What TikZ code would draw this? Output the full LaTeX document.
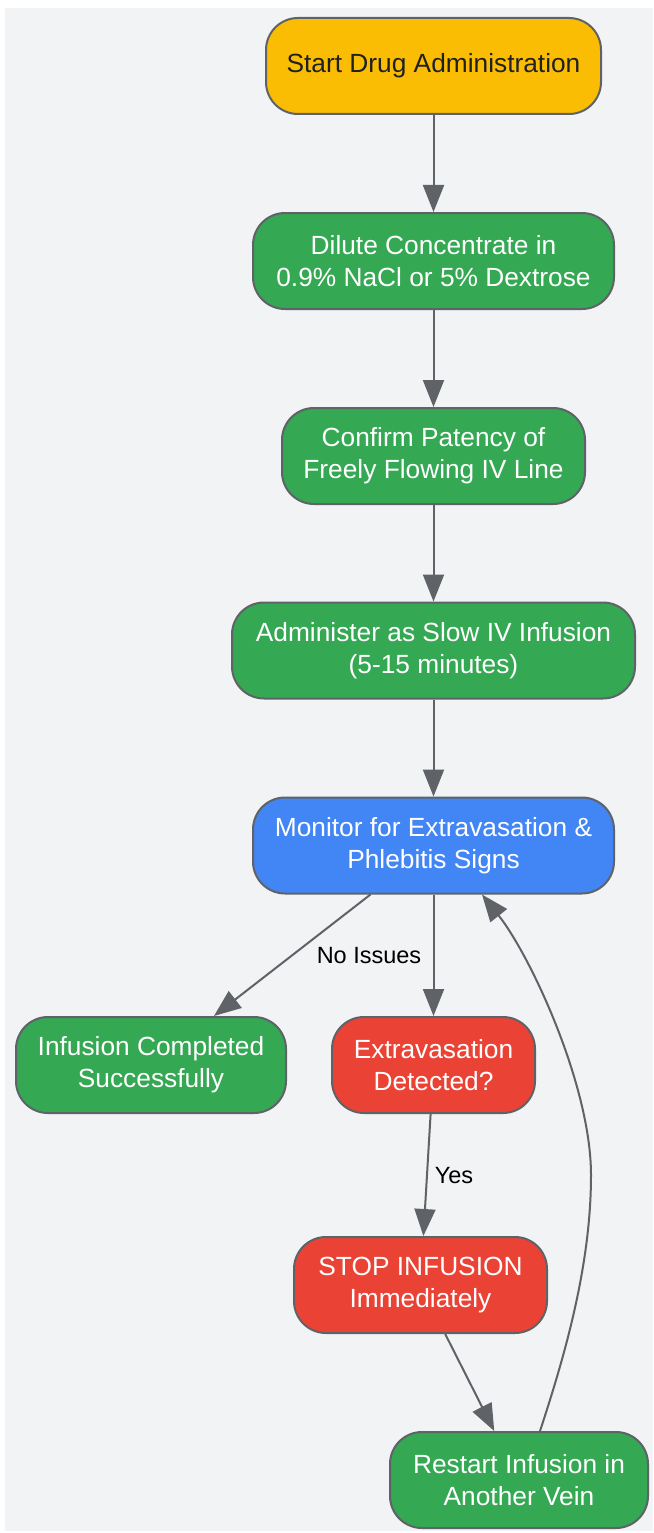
\documentclass[tikz,border=0pt]{standalone}
\usepackage{fontspec}
\setmainfont{Liberation Sans}
\usepackage{xcolor}
\usepackage{tikz}
\usetikzlibrary{arrows.meta}

\definecolor{bggray}{HTML}{F1F3F4}
\definecolor{linegray}{HTML}{5F6368}
\definecolor{gyellow}{HTML}{FBBC04}
\definecolor{ggreen}{HTML}{34A853}
\definecolor{gblue}{HTML}{4285F4}
\definecolor{gred}{HTML}{EA4335}
\definecolor{darktext}{HTML}{202124}

\tikzset{
  box/.style={draw=linegray, line width=2pt, rounded corners=32pt, align=center,
    inner sep=0pt, minimum height=96pt, text=white,
    font=\fontsize{26.3}{32}\selectfont},
  edge/.style={draw=linegray, line width=2pt, -{Triangle[length=27pt,width=21pt]}},
  elabel/.style={font=\fontsize{23.5}{28}\selectfont, text=black, inner sep=0pt}
}

\begin{document}
\begin{tikzpicture}[x=1pt, y=-1pt]
\useasboundingbox (0, 0) rectangle (653, 1533);
\fill[bggray] (5, 8) rectangle (653, 1531);

\node[box, fill=gyellow, text=darktext, minimum width=335pt] (start) at (433.5, 66) {Start Drug Administration};
\node[box, fill=ggreen, minimum width=361pt] (dilute) at (433.5, 261) {Dilute Concentrate in\\0.9\% NaCl or 5\% Dextrose};
\node[box, fill=ggreen, minimum width=303pt] (patency) at (433.5, 456) {Confirm Patency of\\Freely Flowing IV Line};
\node[box, fill=ggreen, minimum width=403pt] (infuse) at (433.5, 650.5) {Administer as Slow IV Infusion\\(5-15 minutes)};
\node[box, fill=gblue, minimum width=361pt] (monitor) at (433.5, 845.5) {Monitor for Extravasation \&\\Phlebitis Signs};
\node[box, fill=ggreen, minimum width=270pt] (done) at (151, 1065) {Infusion Completed\\Successfully};
\node[box, fill=gred, minimum width=203pt] (extrav) at (433.5, 1065) {Extravasation\\Detected?};
\node[box, fill=gred, minimum width=253pt] (stopinf) at (420.5, 1285) {STOP INFUSION\\Immediately};
\node[box, fill=ggreen, minimum width=258pt] (restart) at (519, 1480) {Restart Infusion in\\Another Vein};

% main line
\draw[edge] (start) -- (dilute);
\draw[edge] (dilute) -- (patency);
\draw[edge] (patency) -- (infuse);
\draw[edge] (infuse) -- (monitor);

% branches
\draw[edge] (monitor) -- (done);
\node[elabel] (noissues) at (369, 956) {No Issues};
\draw[edge] (monitor) -- (extrav);
\draw[edge] (extrav) -- (stopinf);
\node[elabel] (yes) at (454, 1176) {Yes};
\draw[edge] (stopinf) -- (restart);

% loop back
\draw[edge] ([xshift=21pt]restart.north) .. controls (565, 1355) and (591, 1265) .. (591, 1175)
  .. controls (591, 1085) and (530, 955) .. ([xshift=48.5pt]monitor.south);
\end{tikzpicture}
\end{document}
